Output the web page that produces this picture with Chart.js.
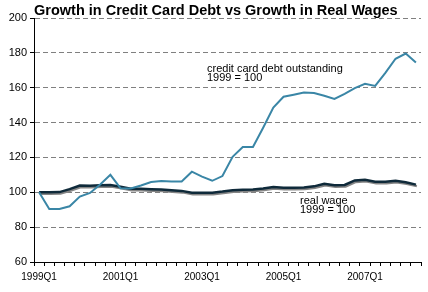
<!DOCTYPE html>
<html>
<head>
<meta charset="utf-8">
<script src="https://cdn.jsdelivr.net/npm/chart.js@4"></script>
<style>
html, body { margin: 0; padding: 0; background: #fff; }
</style>
</head>
<body>
<canvas id="myChart" width="428" height="292"></canvas>
<script>
var quarters = [
    '1999Q1', '1999Q2', '1999Q3', '1999Q4',
    '2000Q1', '2000Q2', '2000Q3', '2000Q4',
    '2001Q1', '2001Q2', '2001Q3', '2001Q4',
    '2002Q1', '2002Q2', '2002Q3', '2002Q4',
    '2003Q1', '2003Q2', '2003Q3', '2003Q4',
    '2004Q1', '2004Q2', '2004Q3', '2004Q4',
    '2005Q1', '2005Q2', '2005Q3', '2005Q4',
    '2006Q1', '2006Q2', '2006Q3', '2006Q4',
    '2007Q1', '2007Q2', '2007Q3', '2007Q4',
    '2008Q1', '2008Q2'
];

// credit card debt outstanding, 1999 = 100
var creditDebt = [
    100, 90.4, 90.4, 92, 97.5, 99.6, 104.5, 110, 102.3, 102.2,
    103.9, 105.9, 106.5, 106.2, 106.2, 111.8, 109, 106.6, 109.3, 120.3,
    126, 126, 137, 148.6, 154.8, 156, 157.2, 157, 155.4, 153.6,
    156.5, 159.8, 162.2, 161, 168.5, 176.6, 179.6, 174.5
];

// real wage, 1999 = 100
var realWage = [
    100, 100, 100.1, 101.8, 103.9, 103.8, 104, 104.2, 103.2, 102,
    102, 101.8, 101.6, 101.2, 100.8, 99.8, 99.7, 99.8, 100.4, 101.2,
    101.4, 101.6, 102.2, 103, 102.6, 102.6, 102.8, 103.4, 104.9, 104,
    104.2, 106.8, 107.2, 106, 106, 106.6, 105.8, 104.4
];

var yMin = 60, yMax = 200, yStep = 20;
var fontFamily = '"Liberation Sans", Arial, sans-serif';

// grey shadow under the real wage line
var shadowPlugin = {
    id: 'wageShadow',
    beforeDatasetDraw: function (chart, args) {
        if (args.index !== 1) return;
        var ctx = chart.ctx;
        ctx.save();
        ctx.shadowColor = '#858585';
        ctx.shadowOffsetX = 1;
        ctx.shadowOffsetY = 1.5;
        ctx.shadowBlur = 0;
    },
    afterDatasetDraw: function (chart, args) {
        if (args.index !== 1) return;
        chart.ctx.restore();
    }
};

// title and line notes
var textPlugin = {
    id: 'notes',
    afterDraw: function (chart) {
        var ctx = chart.ctx;
        ctx.save();
        ctx.fillStyle = '#000';
        ctx.textAlign = 'left';
        ctx.textBaseline = 'alphabetic';
        ctx.font = 'bold 14.5px ' + fontFamily;
        ctx.fillText('Growth in Credit Card Debt vs Growth in Real Wages', 34, 15);
        ctx.font = '11px ' + fontFamily;
        ctx.fillText('credit card debt outstanding', 207, 72);
        ctx.fillText('1999 = 100', 207, 81);
        ctx.fillText('real wage', 300, 204);
        ctx.fillText('1999 = 100', 300, 213);
        ctx.restore();
    }
};

var ctx = document.getElementById('myChart').getContext('2d');
var chart = new Chart(ctx, {
    type: 'line',
    data: {
        labels: quarters,
        datasets: [
            {
                label: 'credit card debt outstanding',
                data: creditDebt,
                borderColor: '#3a86a6',
                borderWidth: 2,
                pointRadius: 0,
                tension: 0
            },
            {
                label: 'real wage',
                data: realWage,
                borderColor: '#0f2a3a',
                borderWidth: 2.5,
                pointRadius: 0,
                tension: 0
            }
        ]
    },
    options: {
        responsive: false,
        animation: false,
        devicePixelRatio: 1,
        layout: { padding: { top: 18, right: 7, left: 0, bottom: 0 } },
        plugins: {
            legend: { display: false },
            title: { display: false },
            tooltip: { enabled: false }
        },
        scales: {
            x: {
                offset: true,
                afterFit: function (scale) { scale.height = 30; },
                grid: {
                    offset: true,
                    drawOnChartArea: false,
                    drawTicks: true,
                    tickLength: 4,
                    tickColor: '#000'
                },
                border: { display: true, color: '#000', width: 1 },
                ticks: {
                    autoSkip: false,
                    maxRotation: 0,
                    padding: 5,
                    color: '#000',
                    font: { family: fontFamily, size: 10 },
                    callback: function (val, idx) {
                        return idx % 8 === 0 ? this.getLabelForValue(val) : '';
                    }
                }
            },
            y: {
                min: yMin,
                max: yMax,
                afterFit: function (scale) { scale.width = 34; },
                grid: {
                    color: '#808080',
                    lineWidth: 1,
                    tickLength: 4,
                    tickColor: '#000',
                    tickBorderDash: []
                },
                border: { display: true, color: '#000', width: 1, dash: [5, 3] },
                ticks: {
                    stepSize: yStep,
                    padding: 3,
                    color: '#000',
                    font: { family: fontFamily, size: 11 }
                }
            }
        }
    },
    plugins: [shadowPlugin, textPlugin]
});
</script>
</body>
</html>
